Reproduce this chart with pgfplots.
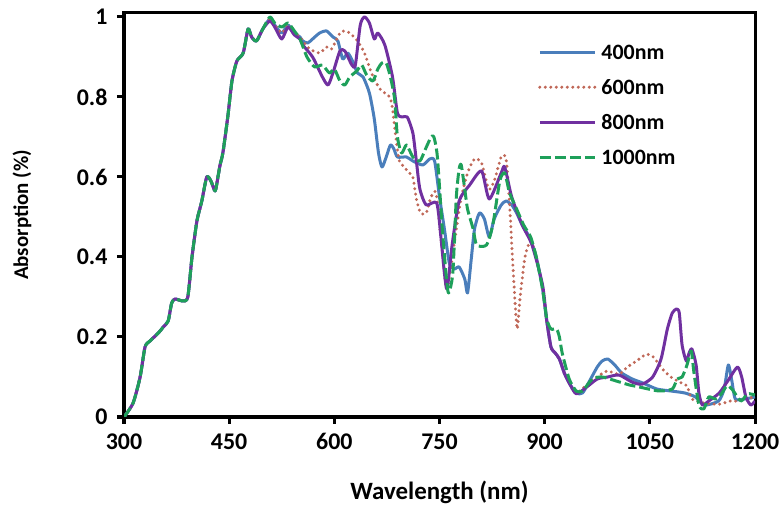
\documentclass[border=0pt]{standalone}
\usepackage{fontspec}
\setmainfont{Carlito}
\usepackage{pgfplots}
\pgfplotsset{compat=1.18}
\definecolor{cA}{RGB}{74,126,187}
\definecolor{cB}{RGB}{192,104,88}
\definecolor{cC}{RGB}{112,48,160}
\definecolor{cD}{RGB}{30,160,90}
\newcommand\tickfont{\fontsize{24}{24}\selectfont\bfseries}
\newcommand\labfont{\fontsize{25}{25}\selectfont\bfseries}
\newcommand\ylabfont{\fontsize{21}{21}\selectfont\bfseries}
\newcommand\legfont{\fontsize{22}{22}\selectfont\bfseries}
\begin{document}
\begin{tikzpicture}
\useasboundingbox (0,0) rectangle (783bp,509bp);
\begin{axis}[
  at={(124bp,92bp)}, anchor=south west,
  scale only axis, width=631bp, height=404bp,
  xmin=300, xmax=1200, ymin=0, ymax=1.01,
  axis line style={line width=3bp, black},
  xtick={300,450,...,1200},
  ytick={0,0.2,0.4,0.6,0.8,1},
  xtick pos=bottom, ytick pos=left,
  tick align=outside, major tick length=7bp,
  tick style={line width=3bp, black},
  /pgf/number format/assume math mode=true,
  /pgf/number format/1000 sep={},
  ticklabel style={font=\tickfont},
  xticklabel style={yshift=-6bp},
  yticklabel style={xshift=-6bp},
  xlabel={Wavelength (nm)},
  ylabel={Absorption (\%)},
  every axis x label/.style={at={(axis description cs:0.5,-0.2054)}, anchor=base, font=\labfont},
  every axis y label/.style={at={(axis description cs:-0.152,0.5)}, anchor=base, rotate=90, font=\ylabfont},
  legend style={at={(axis description cs:0.656,0.9208)}, anchor=north west, draw=none, fill=none,
    inner sep=0pt, row sep=21bp, column sep=5bp, font=\legfont,
    nodes={inner sep=0pt, text height=14bp, text depth=0pt}},
  legend cell align=left,
  legend image code/.code={\draw[#1] (0bp,0bp) -- (55bp,0bp);},
  every axis plot/.append style={line width=3bp, smooth, tension=0.4, line join=round},
]
% 400nm
\addplot[cA, solid] table {
300 0
313 0.035
323 0.10
330 0.175
337 0.19
349 0.21
356 0.225
363 0.24
368 0.285
373 0.295
384 0.29
391 0.30
397 0.40
404 0.49
411 0.54
418 0.60
424 0.59
430 0.565
434 0.60
437 0.63
441 0.66
448 0.75
454 0.84
461 0.89
470 0.91
477 0.97
482 0.95
489 0.94
498 0.97
508 0.995
515 0.98
525 0.96
534 0.98
543 0.96
551 0.95
555 0.94
562 0.935
569 0.945
579 0.96
589 0.965
598 0.95
605 0.94
612 0.895
619 0.91
626 0.89
633 0.86
641 0.85
650 0.81
657 0.745
663 0.66
668 0.625
674 0.65
680 0.68
685 0.67
690 0.65
703 0.65
712 0.64
726 0.63
736 0.645
743 0.64
750 0.55
757 0.47
764 0.385
771 0.37
778 0.375
786 0.345
790 0.31
795 0.39
800 0.47
807 0.51
814 0.495
821 0.45
828 0.495
838 0.53
845 0.54
853 0.53
860 0.51
868 0.48
878 0.45
888 0.40
897 0.32
903 0.24
909 0.175
915 0.16
921 0.145
928 0.11
935 0.085
945 0.06
954 0.06
964 0.09
975 0.125
982 0.14
990 0.145
1000 0.13
1010 0.11
1025 0.095
1040 0.085
1060 0.07
1080 0.065
1100 0.06
1115 0.05
1128 0.03
1148 0.04
1156 0.07
1162 0.13
1167 0.09
1172 0.045
1185 0.045
1200 0.05
};
\addlegendentry{400nm}
% 600nm
\addplot[cB, line width=3.3bp, line cap=round, dash pattern=on 0bp off 5.5bp] table {
300 0
313 0.035
323 0.10
330 0.175
337 0.19
349 0.21
356 0.225
363 0.24
368 0.285
373 0.295
384 0.29
391 0.30
397 0.40
404 0.49
411 0.54
418 0.60
424 0.59
430 0.565
434 0.60
437 0.63
441 0.66
448 0.75
454 0.84
461 0.89
470 0.91
477 0.97
482 0.95
489 0.94
498 0.97
508 0.995
515 0.98
525 0.96
534 0.98
543 0.96
551 0.95
555 0.94
565 0.92
579 0.91
589 0.925
596 0.92
608 0.96
615 0.965
622 0.96
633 0.94
643 0.91
653 0.86
665 0.82
679 0.80
683 0.77
687 0.71
692 0.645
697 0.63
707 0.61
712 0.60
717 0.545
723 0.51
731 0.51
738 0.55
745 0.56
752 0.45
757 0.36
761 0.32
770 0.42
780 0.54
790 0.61
800 0.645
810 0.635
820 0.57
828 0.59
838 0.65
845 0.645
850 0.53
854 0.40
858 0.28
861 0.22
865 0.30
872 0.40
880 0.44
888 0.40
897 0.32
903 0.24
909 0.175
915 0.16
921 0.145
928 0.11
935 0.085
945 0.06
960 0.08
975 0.10
989 0.115
1006 0.107
1018 0.125
1031 0.14
1045 0.157
1055 0.15
1068 0.12
1080 0.10
1095 0.085
1103 0.078
1110 0.045
1127 0.035
1149 0.032
1165 0.04
1177 0.04
1190 0.05
1200 0.045
};
\addlegendentry{600nm}
% 800nm
\addplot[cC, solid] table {
300 0
313 0.035
323 0.10
330 0.175
337 0.19
349 0.21
356 0.225
363 0.24
368 0.285
373 0.295
384 0.29
391 0.30
397 0.40
404 0.49
411 0.54
418 0.60
424 0.59
430 0.565
434 0.60
437 0.63
441 0.66
448 0.75
454 0.84
461 0.89
470 0.91
477 0.97
482 0.95
489 0.94
498 0.97
508 0.99
515 0.975
525 0.945
534 0.975
543 0.955
551 0.945
555 0.93
569 0.90
583 0.85
591 0.83
598 0.86
608 0.915
615 0.915
625 0.88
630 0.88
637 0.98
643 1.0
650 0.985
657 0.945
662 0.96
672 0.93
683 0.85
690 0.76
697 0.75
704 0.75
712 0.71
717 0.64
722 0.57
731 0.53
746 0.535
752 0.45
757 0.36
761 0.32
768 0.43
778 0.54
793 0.58
810 0.615
821 0.545
838 0.61
843 0.625
853 0.55
868 0.48
882 0.43
897 0.33
903 0.24
909 0.175
915 0.16
921 0.145
928 0.11
935 0.085
945 0.058
960 0.075
975 0.095
990 0.10
1006 0.105
1025 0.087
1039 0.082
1054 0.10
1066 0.145
1075 0.22
1082 0.26
1088 0.27
1092 0.26
1096 0.18
1102 0.14
1106 0.16
1110 0.17
1116 0.13
1120 0.06
1125 0.03
1134 0.04
1149 0.06
1163 0.095
1175 0.125
1181 0.10
1187 0.05
1194 0.03
1200 0.04
};
\addlegendentry{800nm}
% 1000nm
\addplot[cD, dash pattern=on 11bp off 4bp] table {
300 0
313 0.035
323 0.10
330 0.175
337 0.19
349 0.21
356 0.225
363 0.24
368 0.285
373 0.295
384 0.29
391 0.30
397 0.40
404 0.49
411 0.54
418 0.60
424 0.59
430 0.565
434 0.60
437 0.63
441 0.66
448 0.75
454 0.84
461 0.89
470 0.91
477 0.97
482 0.95
489 0.94
498 0.97
508 1.0
515 0.985
525 0.975
534 0.985
543 0.965
551 0.945
561 0.90
572 0.875
583 0.88
593 0.86
600 0.87
608 0.84
615 0.83
622 0.85
632 0.865
639 0.88
646 0.855
655 0.84
662 0.87
668 0.885
674 0.885
680 0.85
686 0.795
690 0.70
696 0.66
703 0.68
712 0.65
722 0.64
730 0.67
738 0.70
742 0.70
747 0.65
754 0.47
760 0.345
763 0.31
769 0.36
774 0.55
778 0.62
781 0.63
786 0.57
790 0.52
798 0.47
803 0.43
817 0.43
826 0.48
836 0.59
843 0.61
850 0.56
860 0.52
870 0.48
880 0.45
888 0.40
897 0.32
903 0.245
909 0.22
917 0.22
921 0.20
925 0.16
935 0.095
945 0.065
954 0.065
968 0.095
982 0.10
1002 0.09
1021 0.08
1035 0.075
1063 0.065
1082 0.07
1089 0.095
1096 0.10
1103 0.13
1109 0.165
1113 0.11
1120 0.03
1127 0.02
1134 0.05
1144 0.045
1152 0.058
1160 0.078
1167 0.07
1180 0.04
1189 0.058
1200 0.055
};
\addlegendentry{1000nm}
\end{axis}
\end{tikzpicture}
\end{document}
